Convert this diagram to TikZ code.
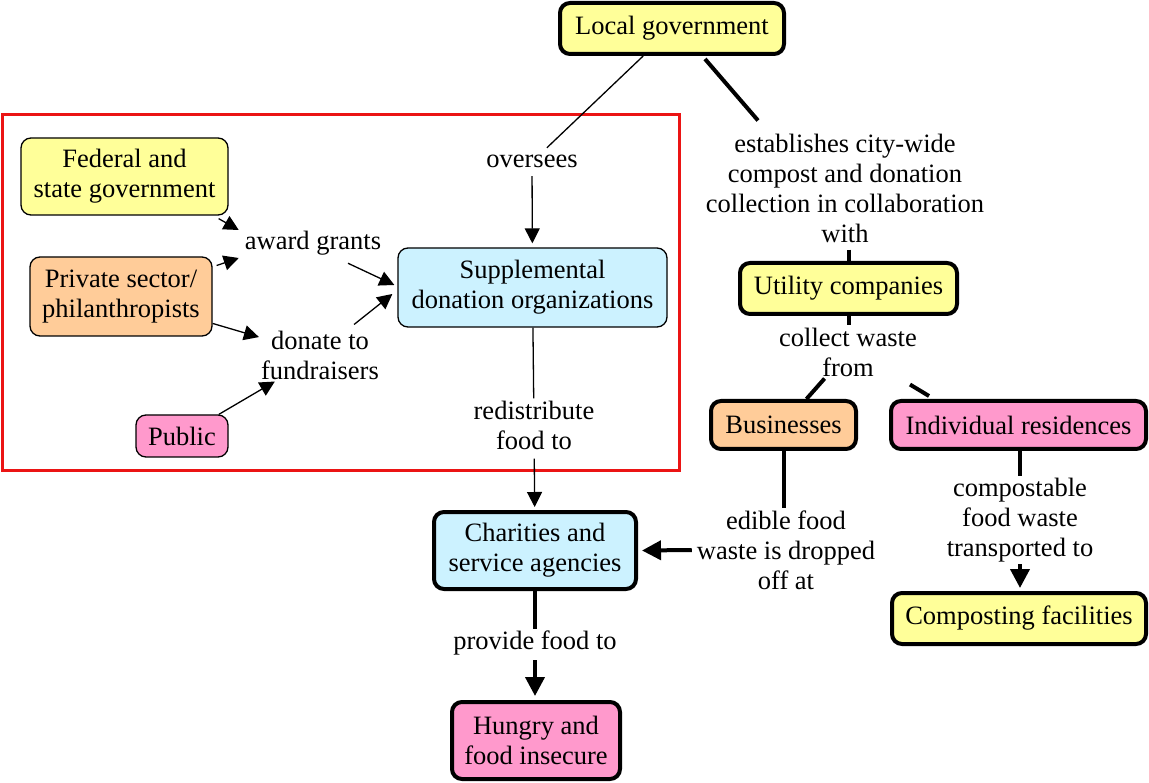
\documentclass[tikz,border=0pt]{standalone}
\usepackage{fontspec}
\setmainfont{Liberation Serif}
\usetikzlibrary{arrows.meta,calc}
\definecolor{cyel}{RGB}{255,255,153}
\definecolor{corg}{RGB}{255,204,153}
\definecolor{cpink}{RGB}{255,153,204}
\definecolor{cblue}{RGB}{204,242,255}
\definecolor{cred}{RGB}{235,20,20}
\begin{document}
\begin{tikzpicture}[x=1pt,y=-1pt,
  every node/.style={font=\fontsize{26.5}{30}\selectfont, align=center},
  concept/.style={rounded corners=10pt, draw=black, inner sep=2pt},
  thinc/.style={concept, line width=1.3pt},
  thickc/.style={concept, line width=4pt},
  lbl/.style={inner sep=2pt},
  thinl/.style={line width=1.3pt},
  thickl/.style={line width=4pt},
  thinarr/.style={thinl, -{Triangle[length=15pt,width=15pt]}},
  thickarr/.style={thickl, -{Triangle[length=19pt,width=19pt]}}
]
\useasboundingbox (0,0) rectangle (1149,783);
\draw[cred, line width=3pt] (2,115) rectangle (679,471);

% concepts
\node[thickc, fill=cyel, minimum width=224pt, minimum height=51pt] (lg) at (672,28.5) {Local government};
\node[thinc, fill=cyel, minimum width=207pt, minimum height=77pt] (fed) at (124.5,176.5) {Federal and\\state government};
\node[thinc, fill=corg, minimum width=182pt, minimum height=79pt] (priv) at (121,296.5) {Private sector/\\philanthropists};
\node[thinc, fill=cpink, minimum width=92pt, minimum height=42pt] (pub) at (182,436) {Public};
\node[thinc, fill=cblue, minimum width=269pt, minimum height=79pt] (sup) at (532.5,287.5) {Supplemental\\donation organizations};
\node[thickc, fill=cblue, minimum width=202pt, minimum height=77pt] (ch) at (535,550.5) {Charities and\\service agencies};
\node[thickc, fill=cpink, minimum width=168pt, minimum height=77pt] (hu) at (536,740.5) {Hungry and\\food insecure};
\node[thickc, fill=cyel, minimum width=217pt, minimum height=51pt] (ut) at (848.5,288.5) {Utility companies};
\node[thickc, fill=corg, minimum width=145pt, minimum height=48pt] (bus) at (783.5,425) {Businesses};
\node[thickc, fill=cpink, minimum width=255pt, minimum height=48pt] (ind) at (1018.5,425) {Individual residences};
\node[thickc, fill=cyel, minimum width=254pt, minimum height=51pt] (cf) at (1019,618.5) {Composting facilities};

% labels
\node[lbl, text height=18pt, text depth=6pt] (ov) at (532,162) {oversees};
\node[lbl] (ag) at (313,243) {award grants};
\node[lbl] (dn) at (320,355) {donate to\\fundraisers};
\node[lbl] (rd) at (534,425) {redistribute\\food to};
\node[lbl] (pf) at (535,643) {provide food to};
\node[lbl] (est) at (845,188) {establishes city-wide\\compost and donation\\collection in collaboration\\with};
\node[lbl] (cw) at (848,352) {collect waste\\from};
\node[lbl] (ed) at (786,550) {edible food\\waste is dropped\\off at};
\node[lbl] (cp) at (1020,520) {compostable\\food waste\\transported to};

% thin connectors
\draw[thinl] (lg) -- (ov);
\draw[thinarr, shorten >=4pt] (ov) -- (sup);
\draw[thinl] (sup) -- (rd);
\draw[thinarr, shorten <=7pt, shorten >=3pt] (rd) -- (ch);
\draw[thinarr] ($(fed.south east)+(-10,3)$) -- ($(ag.west)+(-4,-13)$);
\draw[thinarr] ($(priv.east)+(4,-31)$) -- ($(ag.west)+(-4,15)$);
\draw[thinarr] ($(ag.south)+(35,6)$) -- ($(sup.west)+(-3,-2.5)$);
\draw[thinarr] (priv) -- (dn);
\draw[thinarr] (pub) -- (dn);
\draw[thinarr] ($(dn.north east)+(-27,-4)$) -- ($(sup.west)+(-5,6.5)$);

% thick connectors
\draw[thickl] ($(lg.south)+(33,3)$) -- ($(est.north)+(-87,-11)$);
\draw[thickl, shorten <=5pt] (est.south -| ut.north) -- (ut.north);
\draw[thickl] (ut.south) -- (ut.south |- cw.north);
\draw[thickl] (cw) -- (bus);
\draw[thickl] ($(cw.south east)+(-9,6)$) -- ($(ind.north west)+(40,-3)$);
\draw[thickl] (bus.south) -- (bus.south |- ed.north);
\draw[thickarr] ($(ed.west)+(-3,0)$) -- ($(ch.east)+(4,0)$);
\draw[thickl] (ind.south -| cp.north) -- (cp.north);
\draw[thickarr, shorten >=3pt] (cp.south) -- (cp.south |- cf.north);
\draw[thickl] (ch.south) -- (ch.south |- pf.north);
\draw[thickarr, shorten <=3pt, shorten >=4pt] (pf.south) -- (pf.south |- hu.north);
\end{tikzpicture}
\end{document}
